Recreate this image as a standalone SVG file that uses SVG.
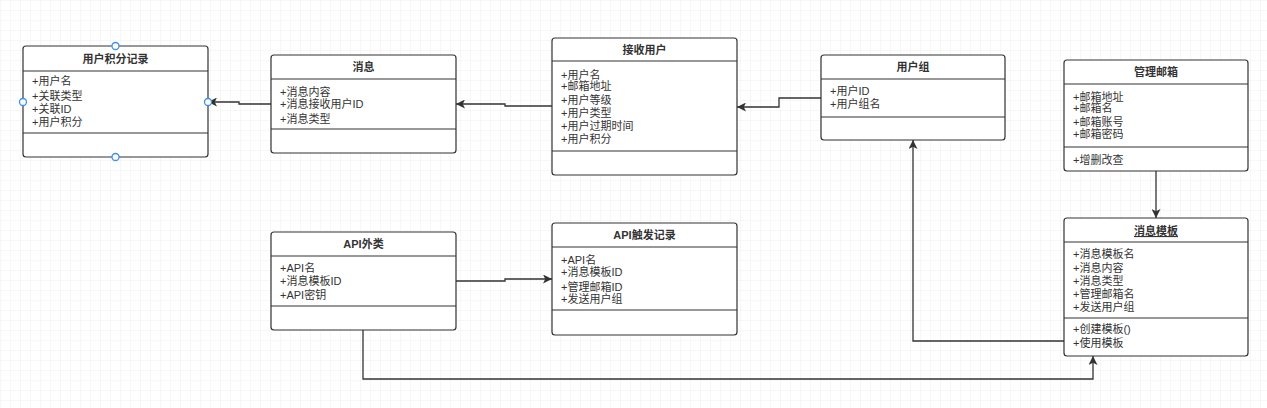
<svg xmlns="http://www.w3.org/2000/svg" width="1267" height="408" viewBox="0 0 1267 408">
<defs>
<pattern id="grid" width="10" height="10" patternUnits="userSpaceOnUse">
<path d="M10 0H0V10" fill="none" stroke="#f0f0f0" stroke-width="1"/>
</pattern>
<marker id="arr" viewBox="0 0 10 10" refX="10" refY="5" markerWidth="9" markerHeight="9" markerUnits="userSpaceOnUse" orient="auto">
<path d="M0,0 L10,5 L0,10 L2.5,5 Z" fill="#333"/>
</marker>
</defs>
<style>
.box{fill:#fff;stroke:#333;stroke-width:1.2}
.div{stroke:#333;stroke-width:1.2}
.t{font-family:"Liberation Sans","Noto Sans CJK SC",sans-serif;font-size:11px;font-weight:bold;fill:#333;text-anchor:middle}
.a{font-family:"Liberation Sans","Noto Sans CJK SC",sans-serif;font-size:11px;fill:#333}
.c{fill:none;stroke:#333;stroke-width:1.3;marker-end:url(#arr)}
.h{fill:#fff;stroke:#3d8fe8;stroke-width:1.3}
</style>
<rect width="1267" height="408" fill="#fff"/>
<rect width="1267" height="408" fill="url(#grid)"/>

<g id="connectors">
<path class="c" d="M271,104 H239 V102 H208"/>
<path class="c" d="M552,106 H505 V104 H456"/>
<path class="c" d="M821,98 H779 V107 H737"/>
<path class="c" d="M1156,171 V218"/>
<path class="c" d="M1064,341 H913 V140"/>
<path class="c" d="M363,330 V379 H1093 V356"/>
<path class="c" d="M456,281 H505 V279 H552"/>
</g>

<g id="node-user-points">
<rect class="box" x="23" y="46" width="185" height="111" rx="3"/>
<line class="div" x1="23" y1="71" x2="208" y2="71"/>
<line class="div" x1="23" y1="133" x2="208" y2="133"/>
<text class="t" x="115.5" y="63">用户积分记录</text>
<text class="a" x="32" y="85">+用户名</text>
<text class="a" x="32" y="100">+关联类型</text>
<text class="a" x="32" y="113">+关联ID</text>
<text class="a" x="32" y="126">+用户积分</text>
<circle class="h" cx="115.5" cy="46" r="3.5"/>
<circle class="h" cx="23" cy="102" r="3.5"/>
<circle class="h" cx="208" cy="102" r="3.5"/>
<circle class="h" cx="115.5" cy="157" r="3.5"/>
</g>

<g id="node-message">
<rect class="box" x="271" y="55" width="185" height="98" rx="3"/>
<line class="div" x1="271" y1="79" x2="456" y2="79"/>
<line class="div" x1="271" y1="129" x2="456" y2="129"/>
<text class="t" x="363.5" y="71">消息</text>
<text class="a" x="280" y="96">+消息内容</text>
<text class="a" x="280" y="108">+消息接收用户ID</text>
<text class="a" x="280" y="123">+消息类型</text>
</g>

<g id="node-receiver">
<rect class="box" x="552" y="38" width="185" height="137" rx="3"/>
<line class="div" x1="552" y1="61" x2="737" y2="61"/>
<line class="div" x1="552" y1="151" x2="737" y2="151"/>
<text class="t" x="644.5" y="54">接收用户</text>
<text class="a" x="561" y="79">+用户名</text>
<text class="a" x="561" y="90">+邮箱地址</text>
<text class="a" x="561" y="104">+用户等级</text>
<text class="a" x="561" y="117">+用户类型</text>
<text class="a" x="561" y="130">+用户过期时间</text>
<text class="a" x="561" y="143">+用户积分</text>
</g>

<g id="node-usergroup">
<rect class="box" x="821" y="55" width="184" height="85" rx="3"/>
<line class="div" x1="821" y1="79" x2="1005" y2="79"/>
<line class="div" x1="821" y1="117" x2="1005" y2="117"/>
<text class="t" x="913" y="71">用户组</text>
<text class="a" x="830" y="95">+用户ID</text>
<text class="a" x="830" y="108">+用户组名</text>
</g>

<g id="node-mailbox">
<rect class="box" x="1064" y="60" width="184" height="111" rx="3"/>
<line class="div" x1="1064" y1="84" x2="1248" y2="84"/>
<line class="div" x1="1064" y1="147" x2="1248" y2="147"/>
<text class="t" x="1156" y="76">管理邮箱</text>
<text class="a" x="1073" y="101">+邮箱地址</text>
<text class="a" x="1073" y="112">+邮箱名</text>
<text class="a" x="1073" y="126">+邮箱账号</text>
<text class="a" x="1073" y="138">+邮箱密码</text>
<text class="a" x="1073" y="164">+增删改查</text>
</g>

<g id="node-template">
<rect class="box" x="1064" y="218" width="184" height="138" rx="3"/>
<line class="div" x1="1064" y1="242" x2="1248" y2="242"/>
<line class="div" x1="1064" y1="318" x2="1248" y2="318"/>
<text class="t" x="1156" y="235" text-decoration="underline">消息模板</text>
<text class="a" x="1073" y="258">+消息模板名</text>
<text class="a" x="1073" y="272">+消息内容</text>
<text class="a" x="1073" y="285">+消息类型</text>
<text class="a" x="1073" y="298">+管理邮箱名</text>
<text class="a" x="1073" y="311">+发送用户组</text>
<text class="a" x="1073" y="333">+创建模板()</text>
<text class="a" x="1073" y="347">+使用模板</text>
</g>

<g id="node-api">
<rect class="box" x="271" y="232" width="185" height="98" rx="3"/>
<line class="div" x1="271" y1="256" x2="456" y2="256"/>
<line class="div" x1="271" y1="306" x2="456" y2="306"/>
<text class="t" x="363.5" y="248">API外类</text>
<text class="a" x="280" y="272">+API名</text>
<text class="a" x="280" y="285">+消息模板ID</text>
<text class="a" x="280" y="299">+API密钥</text>
</g>

<g id="node-api-log">
<rect class="box" x="552" y="223" width="185" height="112" rx="3"/>
<line class="div" x1="552" y1="247" x2="737" y2="247"/>
<line class="div" x1="552" y1="310" x2="737" y2="310"/>
<text class="t" x="644.5" y="239">API触发记录</text>
<text class="a" x="561" y="264">+API名</text>
<text class="a" x="561" y="276">+消息模板ID</text>
<text class="a" x="561" y="291">+管理邮箱ID</text>
<text class="a" x="561" y="303">+发送用户组</text>
</g>
</svg>
